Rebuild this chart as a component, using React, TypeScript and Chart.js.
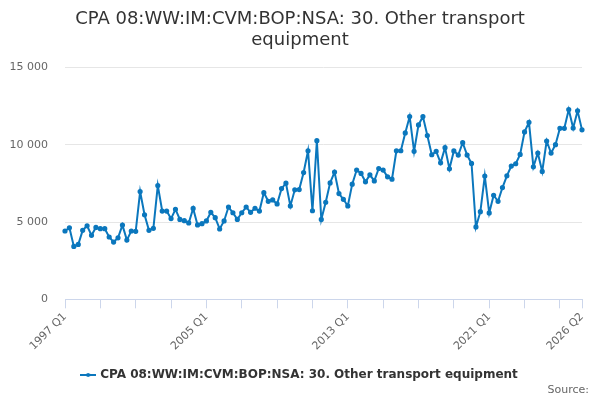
import React, { useRef, useEffect } from 'react';
import Chart from 'chart.js/auto';

// quarterly labels 1997 Q1 .. 2026 Q2
const years = Array.from({ length: 30 }, (_, k) => 1997 + k);
const quarters = ['Q1', 'Q2', 'Q3', 'Q4'];
const labels: string[] = [];
years.forEach((y) => quarters.forEach((q) => labels.push(`${y} ${q}`)));
labels.splice(118);

// values
const values1997_2004 = [
  4420, 4630, 3420, 3550, 4460, 4760, 4140, 4650,
  4570, 4570, 4030, 3700, 3980, 4800, 3830, 4420,
  4400, 6970, 5470, 4460, 4590, 7360, 5710, 5710,
  5220, 5820, 5170, 5090, 4940, 5880, 4810, 4890,
];
const values2005_2012 = [
  5070, 5630, 5280, 4550, 5070, 5970, 5600, 5170,
  5600, 5970, 5630, 5890, 5710, 6900, 6340, 6430,
  6170, 7160, 7510, 6040, 7080, 7100, 8200, 9610,
  5730, 10260, 5170, 6280, 7530, 8230, 6840, 6470,
];
const values2013_2020 = [
  6040, 7450, 8360, 8140, 7600, 8050, 7660, 8460,
  8360, 7920, 7770, 9610, 9610, 10760, 11820, 9570,
  11280, 11820, 10590, 9350, 9570, 8830, 9810, 8440,
  9600, 9330, 10130, 9330, 8790, 4680, 5670, 7970,
];
const values2021_2026 = [
  5590, 6730, 6340, 7230, 7990, 8620, 8770, 9370,
  10830, 11450, 8570, 9460, 8270, 10240, 9460, 10000,
  11060, 11060, 12270, 11080, 12190, 10960,
];
const values = [...values1997_2004, ...values2005_2012, ...values2013_2020, ...values2021_2026];

const seriesName = 'CPA 08:WW:IM:CVM:BOP:NSA: 30. Other transport equipment';
const titleLines = ['CPA 08:WW:IM:CVM:BOP:NSA: 30. Other transport', 'equipment'];
const yTicks = [0, 5000, 10000, 15000];

const BLUE = '#0b77bd';
const FONT = "'DejaVu Sans', sans-serif";

const fmt = (v: number) => String(v).replace(/\B(?=(\d{3})+(?!\d))/g, ' ');

// legend symbol: short line with a dot
const makeSymbol = () => {
  const c = document.createElement('canvas');
  c.width = 16;
  c.height = 8;
  const g = c.getContext('2d')!;
  g.strokeStyle = BLUE;
  g.lineWidth = 2;
  g.beginPath();
  g.moveTo(0, 4);
  g.lineTo(16, 4);
  g.stroke();
  g.fillStyle = BLUE;
  g.beginPath();
  g.arc(8, 4, 2, 0, Math.PI * 2);
  g.fill();
  return c;
};

const sourcePlugin = {
  id: 'sourceText',
  afterDraw(chart: any) {
    const ctx = chart.ctx;
    ctx.save();
    ctx.font = `11px ${FONT}`;
    ctx.fillStyle = '#666666';
    ctx.textAlign = 'right';
    ctx.textBaseline = 'middle';
    ctx.fillText('Source:', 589, 390);
    ctx.restore();
  },
};

const App: React.FC = () => {
  const canvasRef = useRef<HTMLCanvasElement>(null);
  const chartRef = useRef<Chart | null>(null);

  useEffect(() => {
    if (!canvasRef.current) return;
    if (chartRef.current) chartRef.current.destroy();

    const symbol = makeSymbol();
    const last = labels.length - 1;

    chartRef.current = new Chart(canvasRef.current, {
      type: 'line',
      data: {
        labels,
        datasets: [
          {
            label: seriesName,
            data: values,
            borderColor: BLUE,
            backgroundColor: BLUE,
            borderWidth: 2,
            pointRadius: 1.6,
            pointHoverRadius: 3,
            tension: 0,
          },
        ],
      },
      options: {
        animation: false,
        responsive: true,
        maintainAspectRatio: false,
        layout: { padding: { left: 0, right: 0, top: 0, bottom: 9 } },
        plugins: {
          title: {
            display: true,
            text: titleLines,
            color: '#333333',
            font: { family: FONT, size: 18, weight: 'normal', lineHeight: 1.15 },
            padding: { top: 9, bottom: 17 },
          },
          legend: {
            position: 'bottom',
            labels: {
              color: '#333333',
              font: { family: FONT, size: 12, weight: 'bold' },
              usePointStyle: true,
              pointStyle: symbol as any,
              padding: 8,
            },
          },
          tooltip: { enabled: false },
        },
        scales: {
          x: {
            type: 'category',
            grid: {
              drawOnChartArea: false,
              drawTicks: true,
              tickLength: 9,
              tickColor: (c: any) => (c.index % 8 === 0 || c.index === last ? '#ccd6eb' : 'rgba(0,0,0,0)'),
            },
            border: { color: '#ccd6eb', width: 1 },
            offset: false,
            afterFit: (s: any) => {
              s.height += 6;
            },
            ticks: {
              autoSkip: false,
              maxRotation: 45,
              minRotation: 45,
              color: '#666666',
              font: { family: FONT, size: 11 },
              padding: 2,
              callback: (_v: any, i: number) => (i % 32 === 0 || i === last ? labels[i] : ''),
            },
          },
          y: {
            min: 0,
            max: 15000,
            afterBuildTicks: (s: any) => {
              s.ticks = yTicks.map((v) => ({ value: v }));
            },
            afterFit: (s: any) => {
              s.width = 65;
            },
            grid: {
              color: (c: any) => (c.tick && c.tick.value === 0 ? 'rgba(0,0,0,0)' : '#e6e6e6'),
              drawTicks: false,
            },
            border: { display: false },
            ticks: {
              color: '#666666',
              font: { family: FONT, size: 11 },
              padding: 17,
              callback: (v: any) => fmt(Number(v)),
            },
          },
          // empty spacer on the right so the plot ends where the reference does
          yRight: {
            position: 'right',
            display: true,
            grid: { display: false },
            border: { display: false },
            ticks: { display: false },
            afterFit: (s: any) => {
              s.width = 18;
            },
          },
        },
      },
      plugins: [sourcePlugin],
    });

    return () => {
      if (chartRef.current) {
        chartRef.current.destroy();
        chartRef.current = null;
      }
    };
  }, []);

  return (
    <div style={{ position: 'absolute', left: 0, top: 0, width: 600, height: 400, background: '#fff' }}>
      <canvas ref={canvasRef} />
    </div>
  );
};

export default App;
